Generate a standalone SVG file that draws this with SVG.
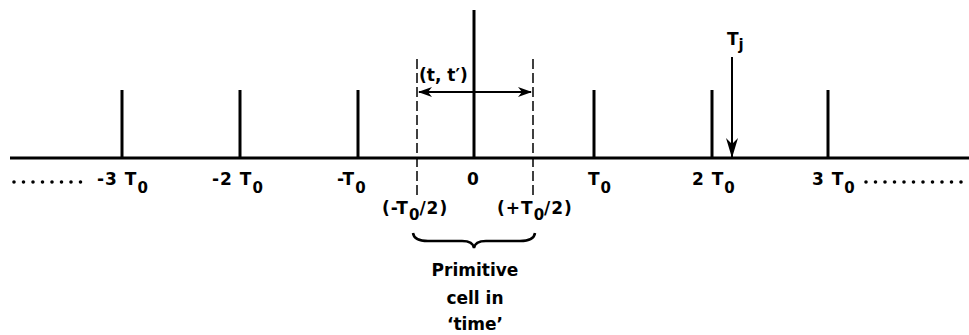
<svg xmlns="http://www.w3.org/2000/svg" width="969" height="335" viewBox="0 0 969 335">
<style>
.t{font-family:"DejaVu Sans","Liberation Sans",Arial,sans-serif;font-weight:bold;font-size:17px;fill:#000}
.l{letter-spacing:1px}
.s{font-size:15px;letter-spacing:0}
.ax{stroke:#000;stroke-width:3;fill:none}
.tk{stroke:#000;stroke-width:3;fill:none}
.dash{stroke:#000;stroke-width:1.5;stroke-dasharray:10,4;fill:none}
.ar{stroke:#000;stroke-width:2;fill:none}
.dots{stroke:#000;stroke-width:3.6;stroke-linecap:round;stroke-dasharray:0,9.5;fill:none}
</style>
<defs>
<marker id="ah" viewBox="0 0 14 10" refX="13" refY="5" markerWidth="14" markerHeight="10" markerUnits="userSpaceOnUse" orient="auto-start-reverse">
<path d="M0,0 L14,5 L0,10 L4,5 Z" fill="#000"/>
</marker>
<marker id="ah2" viewBox="0 0 20 12" refX="19" refY="6" markerWidth="20" markerHeight="12" markerUnits="userSpaceOnUse" orient="auto">
<path d="M0,0 L20,6 L0,12 L6,6 Z" fill="#000"/>
</marker>
</defs>
<g id="axis">
<line class="ax" x1="10" y1="158" x2="969" y2="158"/>
</g>
<g id="ticks">
<line class="tk" x1="122" y1="90" x2="122" y2="158"/>
<line class="tk" x1="240" y1="90" x2="240" y2="158"/>
<line class="tk" x1="358" y1="90" x2="358" y2="158"/>
<line class="tk" x1="474" y1="10" x2="474" y2="158"/>
<line class="tk" x1="594" y1="90" x2="594" y2="158"/>
<line class="tk" x1="712" y1="90" x2="712" y2="158"/>
<line class="tk" x1="828" y1="90" x2="828" y2="158"/>
</g>
<g id="connectors">
<line class="dash" x1="417" y1="59" x2="417" y2="198"/>
<line class="dash" x1="533" y1="59" x2="533" y2="198"/>
<line class="ar" x1="419" y1="92" x2="531" y2="92" marker-start="url(#ah)" marker-end="url(#ah)"/>
<line class="ar" x1="732" y1="57" x2="732" y2="157" marker-end="url(#ah2)"/>
<path d="M413,233 Q414,241 428,241 L462,241 Q473,241 474,248 Q475,241 486,241 L520,241 Q534,241 535,233" fill="none" stroke="#000" stroke-width="2.5"/>
</g>
<g id="dots">
<line class="dots" x1="14" y1="182" x2="90" y2="182"/>
<line class="dots" x1="866" y1="182" x2="969" y2="182"/>
</g>
<g id="labels">
<text class="t l" x="97" y="185">-3 T<tspan class="s" dy="8">0</tspan></text>
<text class="t l" x="212" y="185">-2 T<tspan class="s" dy="8">0</tspan></text>
<text class="t l" x="337" y="185">-T<tspan class="s" dy="8">0</tspan></text>
<text class="t" x="473" y="185" text-anchor="middle">0</text>
<text class="t l" x="588" y="185">T<tspan class="s" dy="8">0</tspan></text>
<text class="t l" x="692" y="185">2 T<tspan class="s" dy="8">0</tspan></text>
<text class="t l" x="812" y="185">3 T<tspan class="s" dy="8">0</tspan></text>
<text class="t" x="419" y="81">(t, t′)</text>
<text class="t" x="727" y="45">T<tspan class="s" dy="5">j</tspan></text>
<text class="t l" x="382" y="214">(-T<tspan class="s" dy="6">0</tspan><tspan dy="-6">/2)</tspan></text>
<text class="t l" x="497" y="214">(+T<tspan class="s" dy="6">0</tspan><tspan dy="-6">/2)</tspan></text>
<text class="t" x="475" y="276" text-anchor="middle">Primitive</text>
<text class="t" x="475" y="304" text-anchor="middle">cell in</text>
<text class="t" x="475" y="330" text-anchor="middle">‘time’</text>
</g>
</svg>
